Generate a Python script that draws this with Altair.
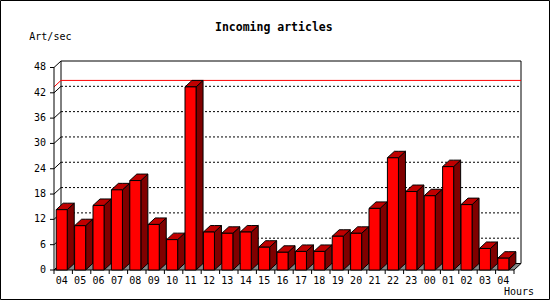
import altair as alt
import pandas as pd

# ---- data ----
hours = ["04", "05", "06", "07", "08", "09", "10", "11", "12", "13", "14", "15", "16",
         "17", "18", "19", "20", "21", "22", "23", "00", "01", "02", "03", "04"]
values = [14.3, 10.5, 15.3, 19.0, 21.2, 10.8, 7.2, 43.4, 9.0, 8.7, 9.0, 5.4, 4.2,
          4.4, 4.4, 8.0, 8.7, 14.6, 26.6, 18.6, 17.6, 24.5, 15.5, 5.1, 2.8]
y_ticks = [0, 6, 12, 18, 24, 30, 36, 42, 48]
title_text = "Incoming articles"
y_title = "Art/sec"
x_title = "Hours"

# ---- layout / 3D geometry (in scale units) ----
W, H = 467, 209
SLOT_PX = 18.4
N = len(hours)
XEND = W / SLOT_PX          # x domain end (slots)
DX = 7 / SLOT_PX            # depth offset in x (slots)
DY = 1.54                   # depth offset in y (value units)
YMAX = y_ticks[-1]
YTOP = YMAX + DY
BAR_OFF = 0.12
BAR_W = 0.60
FONT = "DejaVu Sans Mono"

xs = alt.Scale(domain=[0, XEND], nice=False, zero=False)
ys = alt.Scale(domain=[0, YTOP], nice=False, zero=False)

bars = pd.DataFrame({"i": range(N), "hour": hours, "v": values})
bars["xl"] = bars["i"] + BAR_OFF
bars["xr"] = bars["xl"] + BAR_W
bars["xc"] = bars["xl"] + BAR_W / 2
bars["zero"] = 0.0

side_rows, top_rows = [], []
for i, v in enumerate(values):
    xl = i + BAR_OFF
    xr = xl + BAR_W
    side_rows += [dict(b=i, x=xr, y=0.0, y2=v), dict(b=i, x=xr + DX, y=DY, y2=v + DY)]
    top_rows += [dict(b=i, x=xl, y=v, y2=v), dict(b=i, x=xl + DX, y=v, y2=v + DY),
                 dict(b=i, x=xr, y=v, y2=v + DY), dict(b=i, x=xr + DX, y=v + DY, y2=v + DY)]
side = pd.DataFrame(side_rows)
top = pd.DataFrame(top_rows)

floor = pd.DataFrame([dict(x=0.0, y=0.0, y2=0.0), dict(x=DX, y=0.0, y2=DY),
                      dict(x=float(N), y=0.0, y2=DY), dict(x=N + DX, y=DY, y2=DY)])

wall = pd.DataFrame([dict(x=DX, x2=N + DX, y=DY, y2=YMAX + DY)])
grid = pd.DataFrame({"t": y_ticks[1:-1]})
grid["x"] = DX
grid["x2"] = N + DX
grid["yb"] = grid["t"] + DY
diag = pd.DataFrame({"t": y_ticks})
diag["x"] = 0.0
diag["x2"] = DX
diag["yb"] = diag["t"] + DY
ylabels = pd.DataFrame({"t": y_ticks, "lab": [str(t) for t in y_ticks]})

vmax = max(values)
maxline = pd.DataFrame([dict(x=DX, x2=N + DX, y=vmax + DY, y2=vmax + DY),
                        dict(x=0.0, x2=DX, y=vmax, y2=vmax + DY)])

slot_edges = pd.DataFrame({"e": [float(k) for k in range(N + 1)]})
front_axis = pd.DataFrame([dict(x=0.0, y=0.0, y2=float(YMAX))])

X = lambda f: alt.X(f, scale=xs, axis=None)
Y = lambda f: alt.Y(f, scale=ys, axis=None)

# ---- layers ----
wall_l = alt.Chart(wall).mark_rect(fill="white", stroke="black", strokeWidth=1).encode(
    x=X("x:Q"), x2="x2:Q", y=Y("y:Q"), y2="y2:Q")

grid_l = alt.Chart(grid).mark_rule(color="black", strokeWidth=1, strokeDash=[2, 2]).encode(
    x=X("x:Q"), x2="x2:Q", y=Y("yb:Q"))

diag_l = alt.Chart(diag).mark_rule(color="black", strokeWidth=1).encode(
    x=X("x:Q"), x2="x2:Q", y=Y("t:Q"), y2="yb:Q")

floor_l = alt.Chart(floor).mark_area(color="#888888", stroke="black", strokeWidth=1,
                                     interpolate="linear").encode(
    x=X("x:Q"), y=Y("y:Q"), y2="y2:Q")

max_l = alt.Chart(maxline).mark_rule(color="#ff0000", strokeWidth=1).encode(
    x=X("x:Q"), x2="x2:Q", y=Y("y:Q"), y2="y2:Q")

axis_l = alt.Chart(front_axis).mark_rule(color="black", strokeWidth=1).encode(
    x=X("x:Q"), y=Y("y:Q"), y2="y2:Q")

ytick_l = alt.Chart(ylabels).mark_rule(color="black", strokeWidth=1).encode(
    x=alt.value(-4), x2=alt.value(0), y=Y("t:Q"))

ylab_l = alt.Chart(ylabels).mark_text(font=FONT, fontSize=10, color="black",
                                      align="right", baseline="middle").encode(
    x=alt.value(-8), y=Y("t:Q"), text="lab:N")

xtick_l = alt.Chart(slot_edges).mark_rule(color="black", strokeWidth=1).encode(
    x=X("e:Q"), y=alt.value(H), y2=alt.value(H + 4))

side_l = alt.Chart(side).mark_area(color="#800000", stroke="black", strokeWidth=1,
                                   interpolate="linear").encode(
    x=X("x:Q"), y=Y("y:Q"), y2="y2:Q", detail="b:N")

top_l = alt.Chart(top).mark_area(color="#c00000", stroke="black", strokeWidth=1,
                                 interpolate="linear").encode(
    x=X("x:Q"), y=Y("y:Q"), y2="y2:Q", detail="b:N")

front_l = alt.Chart(bars).mark_rect(color="#ff0000", stroke="black", strokeWidth=1).encode(
    x=X("xl:Q"), x2="xr:Q", y=Y("zero:Q"), y2="v:Q")

xlab_l = alt.Chart(bars).mark_text(font=FONT, fontSize=10, color="black",
                                   baseline="middle", align="center").encode(
    x=X("xc:Q"), y=alt.value(H + 11), text="hour:N")

title_l = alt.Chart(pd.DataFrame({"t": [title_text]})).mark_text(
    font=FONT, fontSize=11.5, fontWeight="bold", color="black",
    align="center", baseline="middle").encode(
    x=alt.value(219.8), y=alt.value(-33.5), text="t:N")

ytitle_l = alt.Chart(pd.DataFrame({"t": [y_title]})).mark_text(
    font=FONT, fontSize=10, color="black", align="left", baseline="middle").encode(
    x=alt.value(-24.7), y=alt.value(-24), text="t:N")

xtitle_l = alt.Chart(pd.DataFrame({"t": [x_title]})).mark_text(
    font=FONT, fontSize=10, color="black", align="left", baseline="middle").encode(
    x=alt.value(450), y=alt.value(H + 22), text="t:N")

frame_l = alt.Chart(pd.DataFrame({"a": [0]})).mark_rect(
    fill=None, stroke="black", strokeWidth=1).encode(
    x=alt.value(-53.5), x2=alt.value(495.5), y=alt.value(-60.5), y2=alt.value(238.5))

chart = alt.layer(
    wall_l, grid_l, diag_l, floor_l, max_l, axis_l, ytick_l, ylab_l, xtick_l,
    side_l, top_l, front_l, xlab_l, title_l, ytitle_l, xtitle_l, frame_l
).properties(
    width=W, height=H,
    autosize=alt.AutoSizeParams(type="none"),
    padding={"left": 54, "top": 61, "right": 29, "bottom": 30},
    background="white",
).configure_view(stroke=None)

chart.save("out.html", embed_options={"renderer": "svg", "actions": False})
